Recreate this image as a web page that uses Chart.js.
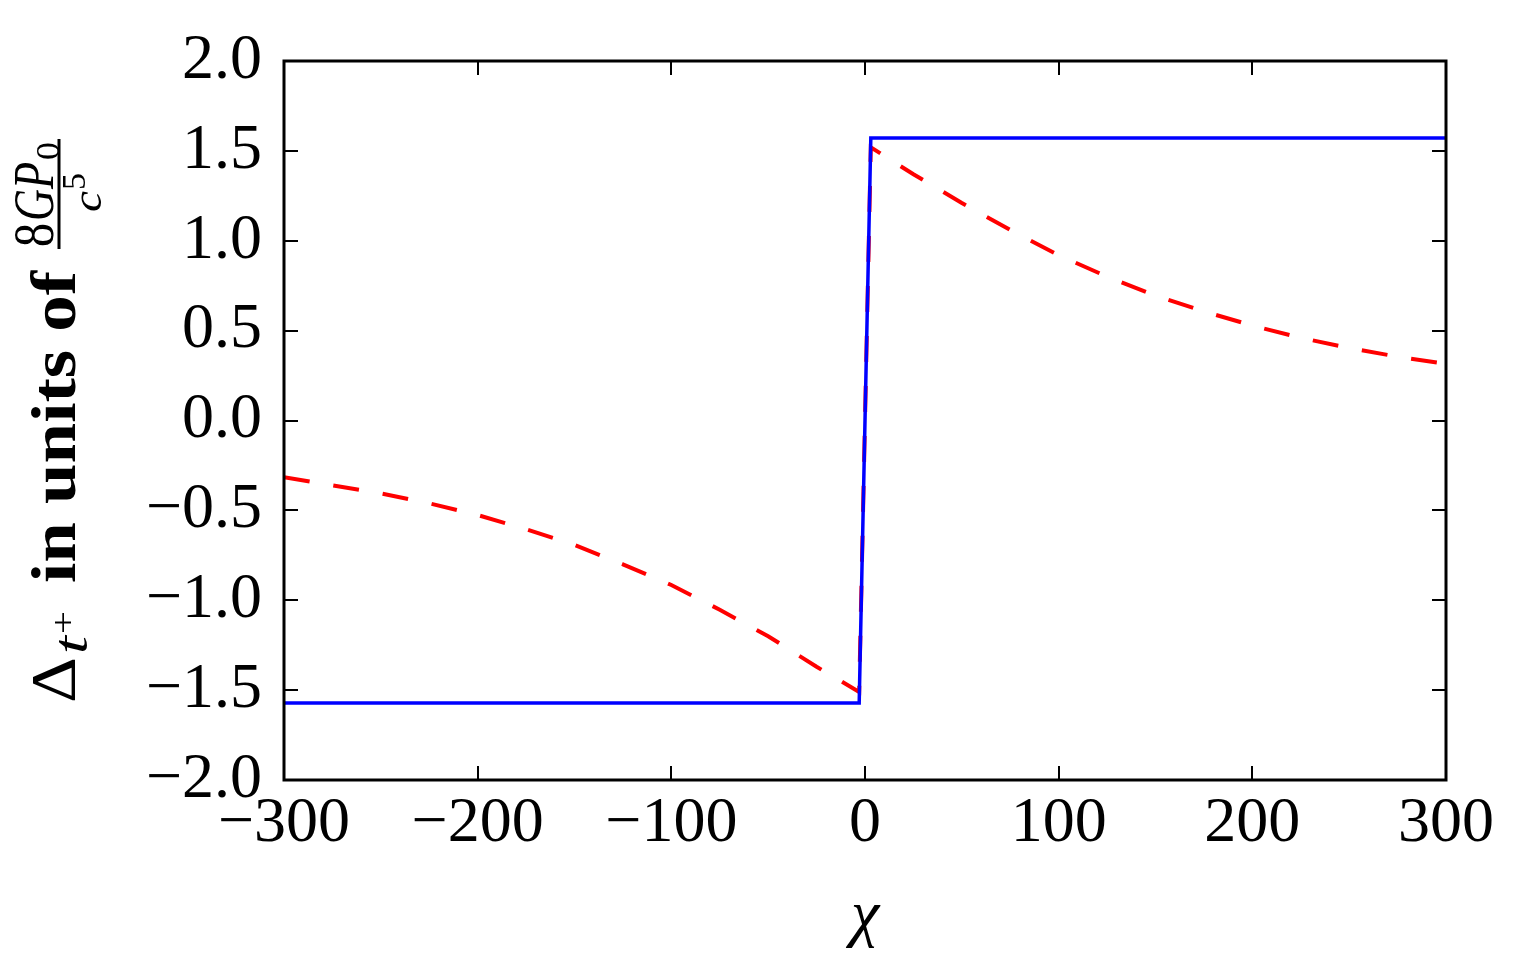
<!DOCTYPE html>
<html>
<head>
<meta charset="utf-8">
<script src="https://cdn.jsdelivr.net/npm/chart.js@4.4.0/dist/chart.umd.min.js"></script>
<style>
  html, body { margin: 0; padding: 0; background: #fff; }
  #wrap { width: 1525px; height: 972px; }
</style>
</head>
<body>
<div id="wrap"><canvas id="chart" width="1525" height="972"></canvas></div>
<script>
// tick values
const xTicks = [-300, -200, -100, 0, 100, 200, 300];
const yTicks = [-2.0, -1.5, -1.0, -0.5, 0.0, 0.5, 1.0, 1.5, 2.0];

// solid blue step
const blueX = [-300, -3, 3, 300];
const blueY = [-1.571, -1.571, 1.571, 1.571];

// dashed red curve
const redX = [-300, -275, -250, -225, -200, -175, -150, -125, -100, -75, -50, -25, -3,
              3, 25, 50, 75, 100, 125, 150, 175, 200, 225, 250, 275, 300];
const redY = [-0.315, -0.361, -0.405, -0.461, -0.526, -0.605, -0.692, -0.800, -0.915, -1.053, -1.200, -1.370, -1.510,
              1.520, 1.370, 1.210, 1.060, 0.920, 0.800, 0.695, 0.607, 0.528, 0.460, 0.403, 0.355, 0.315];

const SERIF = '"Liberation Serif", "DejaVu Serif", serif';
const minus = (s) => s.replace('-', '\u2212');

const pts = (xs, ys) => xs.map((x, i) => ({ x: x, y: ys[i] }));

// frame + inward ticks on all four sides, like matplotlib classic
const frameTicks = {
  id: 'frameTicks',
  afterDatasetsDraw(chart) {
    const { ctx, chartArea: a, scales } = chart;
    ctx.save();
    ctx.strokeStyle = '#000';
    ctx.lineWidth = 2;
    const len = 14;
    ctx.beginPath();
    xTicks.forEach(v => {
      const px = Math.round(scales.x.getPixelForValue(v));
      ctx.moveTo(px, a.bottom); ctx.lineTo(px, a.bottom - len);
      ctx.moveTo(px, a.top); ctx.lineTo(px, a.top + len);
    });
    yTicks.forEach(v => {
      const py = Math.round(scales.y.getPixelForValue(v));
      ctx.moveTo(a.left, py); ctx.lineTo(a.left + len, py);
      ctx.moveTo(a.right, py); ctx.lineTo(a.right - len, py);
    });
    ctx.stroke();
    ctx.lineWidth = 3;
    ctx.strokeRect(a.left, a.top, a.right - a.left, a.bottom - a.top);
    ctx.restore();
  }
};

// draw text stretched to span exactly x0..x1 along the baseline
function fitText(ctx, text, font, x0, x1, yb) {
  ctx.font = font;
  const w = ctx.measureText(text).width;
  ctx.save();
  ctx.translate(x0, yb);
  ctx.scale((x1 - x0) / w, 1);
  ctx.fillText(text, 0, 0);
  ctx.restore();
}

// axis titles (the y one holds sub/superscripts and a fraction)
const axisTitles = {
  id: 'axisTitles',
  afterDraw(chart) {
    const { ctx, chartArea: a } = chart;
    ctx.save();
    ctx.fillStyle = '#000';
    ctx.textBaseline = 'alphabetic';

    // x label
    ctx.font = 'italic 64px ' + SERIF;
    ctx.textAlign = 'center';
    ctx.fillText('\u03c7', (a.left + a.right) / 2, 934);
    ctx.textAlign = 'left';

    // y label, rotated; x runs up the page, baseline at screen x = 75
    ctx.translate(75, 705);
    ctx.rotate(-Math.PI / 2);
    fitText(ctx, '\u0394', '64px ' + SERIF, 2, 48, 0);
    fitText(ctx, 't', 'italic 48px ' + SERIF, 51, 69, 12);
    fitText(ctx, '+', '34px ' + SERIF, 71, 94, -1);
    fitText(ctx, 'in units of', 'bold 64px ' + SERIF, 122, 434, 0);
    // fraction 8GP0 / c^5
    ctx.fillRect(456, -17.5, 110, 3);
    fitText(ctx, '8', '56px ' + SERIF, 458, 482, -22);
    fitText(ctx, 'GP', 'italic 56px ' + SERIF, 484, 543, -22);
    fitText(ctx, '0', '34px ' + SERIF, 545, 563, -16);
    fitText(ctx, 'c', 'italic 42px ' + SERIF, 493, 514, 26);
    fitText(ctx, '5', '34px ' + SERIF, 515, 532, 10);
    ctx.restore();
  }
};

new Chart(document.getElementById('chart'), {
  type: 'line',
  data: {
    datasets: [
      {
        label: 'step',
        data: pts(blueX, blueY),
        borderColor: '#0000ff',
        borderWidth: 3.5,
        pointRadius: 0,
        tension: 0,
        fill: false
      },
      {
        label: 'curve',
        data: pts(redX, redY),
        borderColor: '#ff0000',
        borderWidth: 4,
        borderDash: [26, 24],
        borderCapStyle: 'butt',
        pointRadius: 0,
        tension: 0,
        fill: false
      }
    ]
  },
  options: {
    responsive: false,
    animation: false,
    devicePixelRatio: 1,
    layout: { padding: { left: 0, right: 79, top: 61, bottom: 0 } },
    plugins: { legend: { display: false }, tooltip: { enabled: false } },
    scales: {
      x: {
        type: 'linear',
        min: -300, max: 300,
        afterBuildTicks: (s) => { s.ticks = xTicks.map(v => ({ value: v })); },
        afterFit: (s) => { s.height = 192; },
        grid: { display: false, drawTicks: false },
        border: { display: false },
        ticks: {
          padding: 6,
          color: '#000',
          maxRotation: 0,
          font: { family: SERIF, size: 64 },
          callback: (v) => minus(String(v))
        }
      },
      y: {
        type: 'linear',
        min: -2, max: 2,
        afterBuildTicks: (s) => { s.ticks = yTicks.map(v => ({ value: v })); },
        afterFit: (s) => { s.width = 284; },
        grid: { display: false, drawTicks: false },
        border: { display: false },
        ticks: {
          padding: 22,
          color: '#000',
          font: { family: SERIF, size: 64 },
          callback: (v) => minus(v.toFixed(1))
        }
      }
    }
  },
  plugins: [frameTicks, axisTitles]
});
</script>
</body>
</html>
